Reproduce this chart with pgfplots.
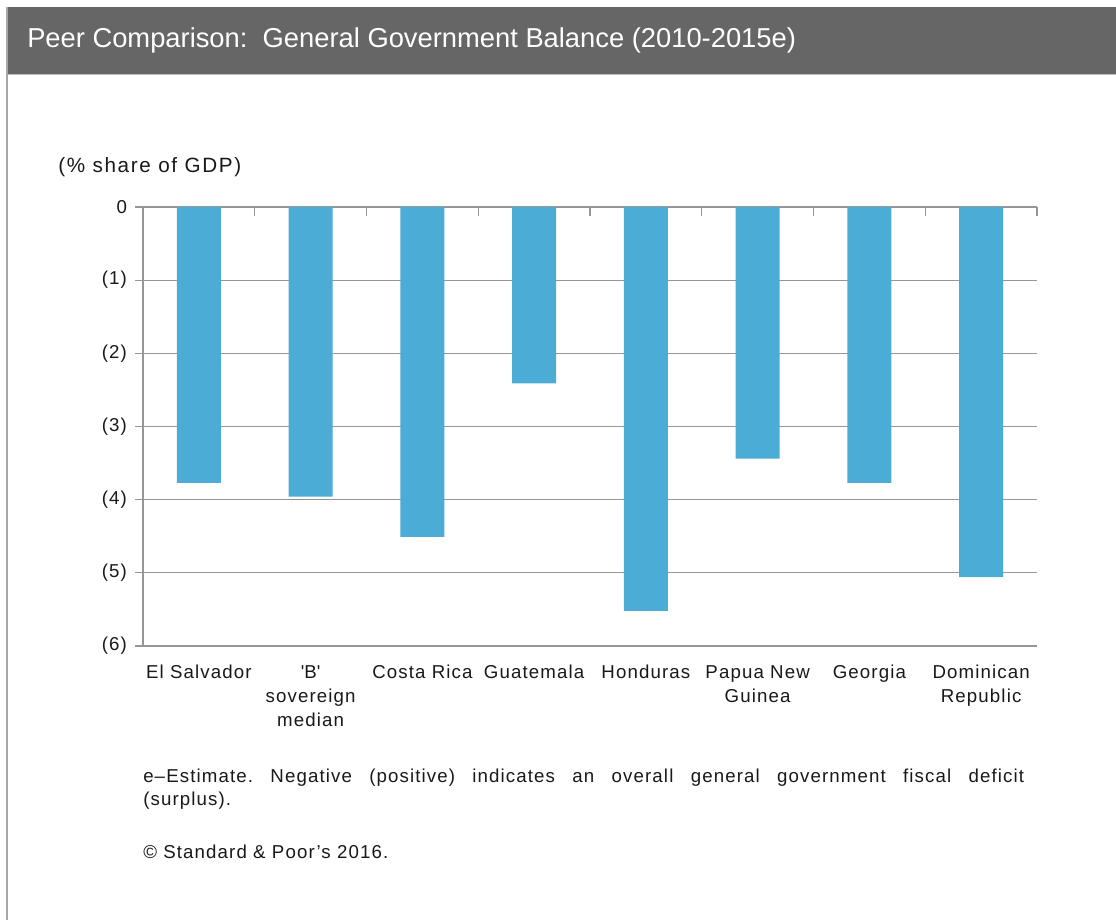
\documentclass[border=0pt]{standalone}
\usepackage{fontspec}
\setmainfont{Liberation Sans}
\usepackage{pgfplots}
\pgfplotsset{compat=1.18}
\definecolor{barblue}{RGB}{75,172,214}
\definecolor{titlegray}{RGB}{102,102,102}
\definecolor{gridgray}{RGB}{150,150,150}
\definecolor{textgray}{RGB}{25,25,25}
\newcommand\lblfont{\fontsize{14}{18}\selectfont\addfontfeature{LetterSpace=6}}
\frenchspacing
\begin{document}
\frenchspacing
\begin{tikzpicture}[x=0.75pt,y=0.75pt]
\fill[white] (0,0) rectangle (1116,920);
\useasboundingbox (0,0) rectangle (1116,920);
\fill[titlegray] (7,846) rectangle (1116,913);
\draw[gray!50, line width=1.2pt] (7,845.5) -- (1116,845.5);
\draw[gray!70, line width=1.2pt] (7,0) -- (7,913);
\node[anchor=west, text=white, font=\fontsize{20.5}{24}\selectfont, inner sep=0pt] at (27,879.5) {Peer Comparison:\ \ General Government Balance (2010-2015e)};
\node[anchor=west, text=textgray, font=\fontsize{15.5}{18}\selectfont\addfontfeature{LetterSpace=8}, inner sep=0pt] at (58,753) {(\% share of GDP)};
\begin{axis}[
  at={(107.25pt,205.5pt)}, anchor=south west,
  width=670.5pt, height=329.25pt, scale only axis,
  xmin=-0.5, xmax=7.5, ymin=-6, ymax=0,
  ybar, bar width=33pt,
  axis line style={draw=none},
  ymajorgrids, grid style={gridgray, line width=0.9pt},
  ytick={-6,-5,-4,-3,-2,-1,0},
  yticklabels={(6),(5),(4),(3),(2),(1),0},
  xtick={0,1,2,3,4,5,6,7},
  xticklabels={El Salvador,\textquotesingle B\textquotesingle\\sovereign\\median,Costa Rica,Guatemala,Honduras,Papua New\\Guinea,Georgia,Dominican\\Republic},
  tick label style={font=\lblfont, text=textgray},
  x tick label style={align=center, anchor=north, yshift=-5pt},
  y tick label style={xshift=-2.5pt},
  xtick style={draw=none},
  ytick style={gridgray, line width=0.9pt},
  tick align=outside, tick pos=left,
  major tick length=6pt,
  clip=false,
]
\addplot[fill=barblue, draw=none] coordinates {(0,-3.77) (1,-3.96) (2,-4.51) (3,-2.41) (4,-5.52) (5,-3.44) (6,-3.77) (7,-5.06)};
\draw[gridgray, line width=0.9pt] (axis cs:-0.5,0) -- (axis cs:-0.5,-6);
\pgfplotsinvokeforeach{-0.5,0.5,1.5,2.5,3.5,4.5,5.5,6.5,7.5}{
  \draw[gridgray, line width=0.9pt] (axis cs:#1,0) -- ([yshift=-6.5pt]axis cs:#1,0);
}
\end{axis}
\node[anchor=north west, text=textgray, font=\fontsize{14}{17.25}\selectfont\addfontfeature{LetterSpace=6}\frenchspacing, text width=660.75pt, align=justify, inner sep=0pt] at (143,151) {e--Estimate. Negative (positive) indicates an overall general government fiscal deficit\linebreak (surplus).};
\node[anchor=west, text=textgray, font=\fontsize{14}{17}\selectfont\addfontfeature{LetterSpace=6}, inner sep=0pt] at (143,68) {\textcopyright{} Standard \& Poor's 2016.};
\end{tikzpicture}
\end{document}
